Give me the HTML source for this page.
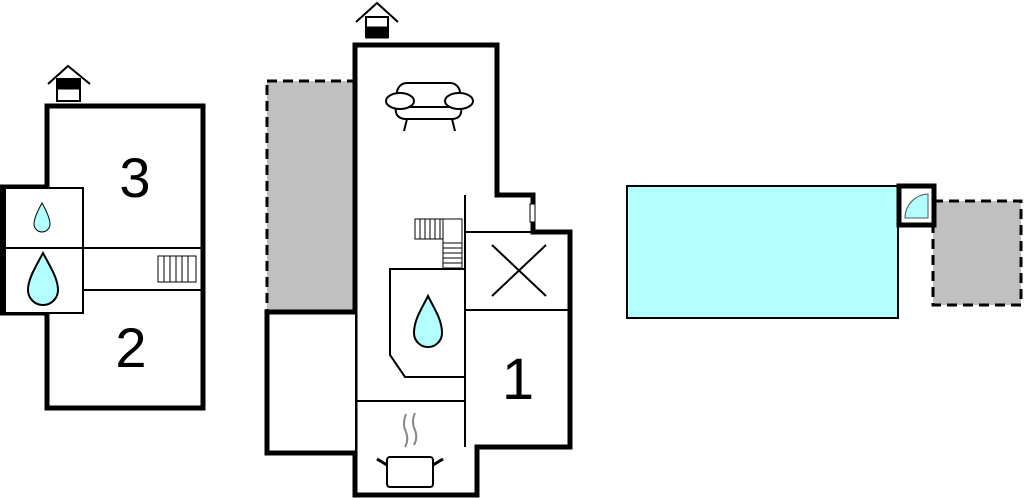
<!DOCTYPE html>
<html><head><style>html,body{margin:0;padding:0;background:#fff;width:1024px;height:498px;overflow:hidden}</style></head>
<body>
<svg width="1024" height="498" viewBox="0 0 1024 498" xmlns="http://www.w3.org/2000/svg" font-family="Liberation Sans, sans-serif">
<!-- LEFT BUILDING -->
<g fill="none" stroke="#000">
<rect x="47" y="106" width="156" height="302" stroke-width="5" fill="#fff"/>
<path d="M47 187 H2 V313 H47" stroke-width="5" fill="#fff"/>
<rect x="5" y="188" width="78" height="125" stroke-width="2" fill="#fff"/>
<line x1="5" y1="248" x2="203" y2="248" stroke-width="2"/>
<line x1="83" y1="290" x2="203" y2="290" stroke-width="2"/>
<rect x="158" y="256" width="38" height="26" stroke-width="1"/>
<path d="M164 256V282M170 256V282M176 256V282M182 256V282M188 256V282" stroke-width="1"/>
</g>
<path d="M42 203 C37 212 34 219 34 224 A8 8 0 0 0 50 224 C50 219 47 212 42 203Z" fill="#b3ffff" stroke="#000" stroke-width="1"/>
<path d="M43 253 C35 268 28 279 28 290 A15 15 0 0 0 58 290 C58 279 51 268 43 253Z" fill="#b3ffff" stroke="#000" stroke-width="2"/>
<text x="135" y="197" font-size="56" text-anchor="middle">3</text>
<text x="131" y="367" font-size="56" text-anchor="middle">2</text>
<!-- house icon left -->
<g stroke="#000" fill="none"><path d="M48 84 L68 66 L90 84" stroke-width="2"/>
<rect x="57" y="79" width="23" height="22" fill="#fff" stroke-width="2"/><rect x="57" y="79" width="23" height="10" fill="#000"/></g>

<!-- MIDDLE BUILDING -->
<rect x="267" y="81" width="88" height="231" fill="#c0c0c0" stroke="#000" stroke-width="3" stroke-dasharray="10,6"/>
<g fill="none" stroke="#000">
<path d="M497 195 V45 H355 V495 H477 V447 H570 V232 H533 V195 Z" fill="#fff" stroke-width="5"/>
<path d="M355 312 H267 V453 H355" fill="#fff" stroke-width="5"/>
<line x1="465" y1="195" x2="465" y2="447" stroke-width="2"/>
<line x1="465" y1="232" x2="533" y2="232" stroke-width="2"/>
<line x1="465" y1="310" x2="570" y2="310" stroke-width="2"/>
<line x1="355" y1="401" x2="465" y2="401" stroke-width="2"/>
<path d="M465 269 H390 V355 L405 377 H465" stroke-width="2"/>
<path d="M492 245 L546 296 M546 245 L492 296" stroke-width="2"/>
<rect x="415" y="219" width="28" height="20" stroke-width="1"/>
<path d="M420 219V239M425 219V239M430 219V239M435 219V239M440 219V239" stroke-width="1"/>
<path d="M443 219 H462 V268 H443 V239" stroke-width="1"/>
<path d="M443 243H462M443 248H462M443 253H462M443 258H462M443 263H462" stroke-width="1"/>
</g>
<rect x="530" y="204" width="5" height="18" fill="#fff" stroke="#000" stroke-width="1"/>
<path d="M428 296 C421 310 414 320 414 333 A14 14 0 0 0 442 333 C442 320 435 310 428 296Z" fill="#b3ffff" stroke="#000" stroke-width="2"/>
<text x="518" y="399" font-size="58" text-anchor="middle">1</text>
<!-- sofa -->
<g fill="#fff" stroke="#000" stroke-width="2">
<path d="M396 106 Q394 118 405 119 H453 Q463 118 461 106"/>
<rect x="397" y="83" width="63" height="24" rx="10"/>
<ellipse cx="400" cy="101" rx="14" ry="8"/>
<ellipse cx="459" cy="101" rx="14" ry="8"/>
<path d="M407 119 L404 131 M452 119 L455 131" fill="none"/>
</g>
<!-- pot -->
<g stroke="#000" stroke-width="2" fill="#fff">
<rect x="387" y="457" width="46" height="30" rx="3"/>
<path d="M387 465 L377 459 M433 465 L443 459" fill="none" stroke-width="3"/>
</g>
<path d="M406 414 Q402 424 406 432 Q409 440 405 447 M415 413 Q411 422 415 430 Q418 438 414 445" fill="none" stroke="#888" stroke-width="2"/>
<!-- house icon middle -->
<g stroke="#000" fill="none"><path d="M356 22 L377 3 L398 22" stroke-width="2"/>
<rect x="366" y="17" width="22" height="20" fill="#fff" stroke-width="2"/><rect x="366" y="27" width="22" height="11" fill="#000"/></g>

<!-- RIGHT: POOL -->
<rect x="627" y="186" width="271" height="132" fill="#b3ffff" stroke="#000" stroke-width="2"/>
<rect x="933" y="201" width="88" height="104" fill="#c0c0c0" stroke="#000" stroke-width="3" stroke-dasharray="10,6"/>
<rect x="899" y="186" width="35" height="39" fill="#fff" stroke="#000" stroke-width="5"/>
<path d="M928 194 A24 24 0 0 0 905 218 H928 Z" fill="#b3ffff" stroke="#555" stroke-width="1"/>
</svg>
</body></html>
